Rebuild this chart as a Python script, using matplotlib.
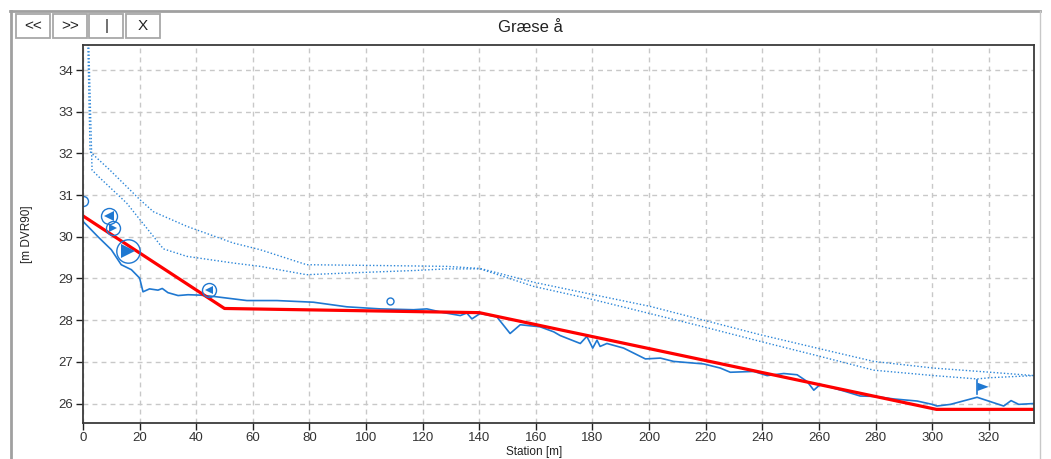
import matplotlib
matplotlib.use("Agg")
import matplotlib.pyplot as plt
from matplotlib.patches import Rectangle
from matplotlib.lines import Line2D

# ---------------- data ----------------
title = "Græse å"
xlabel = "Station [m]"
ylabel = "[m DVR90]"
buttons = ["<<", ">>", "|", "X"]

# design bed (red)
design_st = [0, 50, 140, 301.5, 336]
design_z = [30.50, 28.28, 28.18, 25.86, 25.86]

# existing bed (blue solid)
bed_st = [0, 5.3, 10, 13.5, 17.1, 20, 21.2, 23.5, 26.5, 28, 30, 33.6, 37.1, 41.4, 46,
          57.9, 68.5, 81.4, 93.2, 105, 116.8, 121.5, 127.4, 133.3, 135.6, 137.4, 140.3,
          146.2, 150.9, 154.5, 161.5, 166.3, 168.6, 175.7, 178, 180.1, 181.6, 182.7,
          185.1, 191, 198.7, 204, 208.7, 219.3, 225.2, 228.7, 237, 241.7, 247.6, 252.3,
          255.8, 258.2, 260.5, 268.8, 274.6, 280, 286.4, 294.7, 300, 301.7, 306.5,
          315.9, 325.3, 327.9, 330.6, 336]
bed_z = [30.37, 30.0, 29.69, 29.33, 29.21, 29.01, 28.68, 28.75, 28.72, 28.76, 28.66,
         28.59, 28.61, 28.60, 28.57, 28.47, 28.47, 28.43, 28.32, 28.27, 28.25, 28.27,
         28.18, 28.11, 28.17, 28.03, 28.16, 28.08, 27.68, 27.89, 27.84, 27.72, 27.63,
         27.44, 27.61, 27.33, 27.52, 27.37, 27.44, 27.33, 27.07, 27.09, 27.01, 26.95,
         26.85, 26.75, 26.77, 26.67, 26.72, 26.69, 26.53, 26.32, 26.46, 26.30, 26.18,
         26.17, 26.11, 26.06, 25.98, 25.94, 25.98, 26.15, 25.94, 26.07, 25.98, 26.00]

# water levels (blue dotted)
wl1_st = [1.3, 2.5, 9.5, 20.1, 24.9, 36.7, 53.1, 62.6, 79, 105, 128.5, 140.3, 159.2,
          180.4, 200.4, 218.1, 239.3, 259.3, 279.4, 300.6, 320.6, 336]
wl1_z = [36.0, 32.04, 31.60, 30.89, 30.60, 30.25, 29.85, 29.69, 29.33, 29.31, 29.29,
         29.24, 28.91, 28.61, 28.33, 28.02, 27.65, 27.33, 27.01, 26.85, 26.75, 26.67]
wl2_st = [1.5, 3.2, 6, 15.4, 28.4, 36.7, 53.1, 62.6, 79, 93.2, 116.8, 128.5, 140.3,
          159.2, 180.4, 218.1, 239.3, 259.3, 279.4, 300.6, 315.9, 320.6, 336]
wl2_z = [36.0, 31.60, 31.41, 30.81, 29.71, 29.53, 29.37, 29.29, 29.09, 29.13, 29.19,
         29.23, 29.23, 28.81, 28.49, 27.86, 27.49, 27.15, 26.80, 26.67, 26.59, 26.62, 26.67]

# structure markers: station, level, direction, size(px radius)
mark_st = [9.2, 10.6, 15.9, 44.4]
mark_z = [30.51, 30.22, 29.65, 28.73]
mark_dir = ["<", ">", ">", "<"]
mark_r = [8, 7, 11.7, 7]

# small open circles
circ_st = [0.0, 108.3]
circ_z = [30.85, 28.45]
circ_r = [5, 3.5]

# flag marker
flag_st = 316
flag_z = 26.40

xticks = list(range(0, 321, 20))
yticks = list(range(26, 35))

# ---------------- figure ----------------
W, H, DPI = 1051, 459, 100
plt.rcParams['font.family'] = ['Liberation Sans', 'DejaVu Sans']
fig = plt.figure(figsize=(W / DPI, H / DPI), dpi=DPI)
fig.patch.set_facecolor("white")

def fx(px):
    return px / W

def fy(py):
    return 1 - py / H

ax_l, ax_r, ax_t, ax_b = 83, 1034, 45, 422.5
ax = fig.add_axes([fx(ax_l), fy(ax_b), fx(ax_r - ax_l), (ax_b - ax_t) / H])
ax.set_xlim(0, 336)
ax.set_ylim(25.545, 34.6)

blue = "#1f78d1"
dot_blue = "#2c86d8"

ax.set_xticks(xticks)
ax.set_yticks(yticks)
ax.grid(True, color="#c8c8c8", linestyle=(0, (3.5, 3)), linewidth=1.0)
ax.set_axisbelow(True)
for s in ax.spines.values():
    s.set_color("#3a3a3a")
    s.set_linewidth(1.3)
ax.tick_params(axis="both", direction="out", length=5, width=1, color="#202020",
               labelsize=9.5, labelcolor="#333333", pad=2)

ax.plot(wl1_st, wl1_z, color=dot_blue, lw=1.0, linestyle=(0, (1, 1.5)))
ax.plot(wl2_st, wl2_z, color=dot_blue, lw=1.0, linestyle=(0, (1, 1.5)))
ax.plot(bed_st, bed_z, color=blue, lw=1.2)
ax.plot(design_st, design_z, color="#ff0000", lw=2.3)

pt = 72 / DPI
for s, z, d, r in zip(mark_st, mark_z, mark_dir, mark_r):
    ax.plot([s], [z], marker="o", markersize=2 * r * pt, markerfacecolor="none",
            markeredgecolor=blue, markeredgewidth=1.0)
    ax.plot([s], [z], marker=d, markersize=1.25 * r * pt, color=blue,
            markeredgewidth=0)
for s, z, r in zip(circ_st, circ_z, circ_r):
    ax.plot([s], [z], marker="o", markersize=2 * r * pt, markerfacecolor="none",
            markeredgecolor=blue, markeredgewidth=1.0)

ax.plot([flag_st, flag_st], [flag_z - 0.17, flag_z + 0.17], color=blue, lw=1.2)
ax.fill([flag_st, flag_st + 4, flag_st], [flag_z + 0.10, flag_z, flag_z - 0.10],
        color=blue, lw=0)

fig.text(fx(27), fy(234), ylabel, rotation=90, ha="center", va="center",
         fontsize=8.5, color="#222222")
fig.text(fx(534), fy(452), xlabel, ha="center", va="center", fontsize=8.5,
         color="#222222")

fig.text(fx(530), fy(28), title, ha="center", va="center", fontsize=12,
         color="#222222")

# outer frame
fig.add_artist(Line2D([fx(10), fx(1040)], [fy(11), fy(11)], color="#a0a0a0", lw=2,
                      transform=fig.transFigure))
fig.add_artist(Line2D([fx(10.5), fx(10.5)], [fy(11), 0], color="#a0a0a0", lw=2,
                      transform=fig.transFigure))
fig.add_artist(Line2D([fx(1040), fx(1040)], [fy(11), 0], color="#c8c8c8", lw=1,
                      transform=fig.transFigure))

# buttons
bx = [16, 52.7, 89.3, 126]
for x0, lab in zip(bx, buttons):
    fig.add_artist(Rectangle((fx(x0), fy(38)), fx(34), (38 - 14) / H,
                             facecolor="white", edgecolor="#a8a8a8", lw=1.3,
                             transform=fig.transFigure))
    fig.text(fx(x0 + 17), fy(26), lab, ha="center", va="center", fontsize=11,
             color="#222222")

fig.savefig("out.png", dpi=DPI, facecolor="white")
